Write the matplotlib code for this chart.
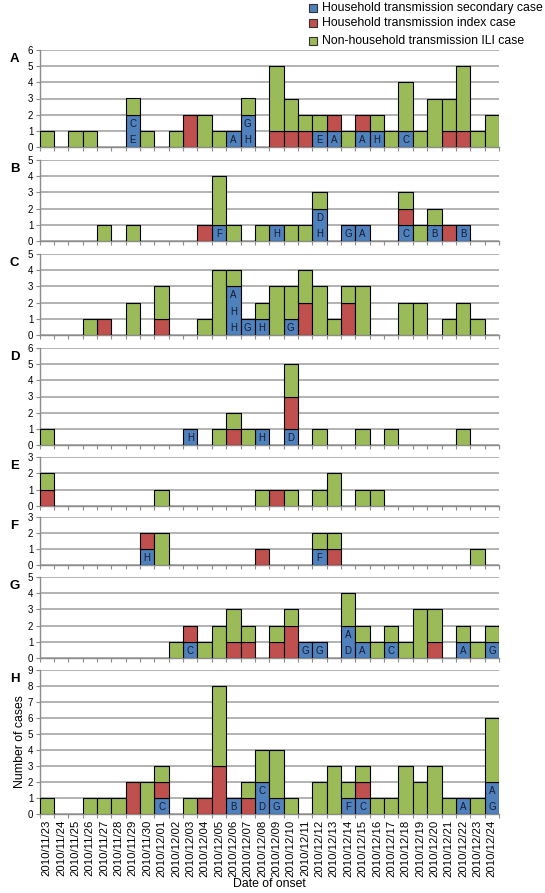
import matplotlib
matplotlib.use("Agg")
import matplotlib.pyplot as plt
from matplotlib.patches import Rectangle

plt.rcParams['font.family'] = ['Liberation Sans', 'DejaVu Sans']

dates = ["2010/11/%02d" % d for d in range(23, 31)] + ["2010/12/%02d" % d for d in range(1, 25)]

panel_names = ["A", "B", "C", "D", "E", "F", "G", "H"]
panel_ymax = [6, 5, 5, 6, 3, 3, 5, 9]

A_secondary = [0,0,0,0,0,0,2,0,0,0,0,0,0,1,2,0,0,0,0,1,1,0,1,1,0,1,0,0,0,0,0,0]
A_index     = [0,0,0,0,0,0,0,0,0,0,2,0,0,0,0,0,1,1,1,0,1,0,1,0,0,0,0,0,1,1,0,0]
A_nonhh     = [1,0,1,1,0,0,1,1,0,1,0,2,1,0,1,0,4,2,1,1,0,1,0,1,1,3,1,3,2,4,1,2]
A_letters   = ["","","","","","","EC","","","","","","","A","HG","","","","","E","A","","A","H","","C","","","","","",""]

B_secondary = [0,0,0,0,0,0,0,0,0,0,0,0,1,0,0,0,1,0,0,2,0,1,1,0,0,1,0,1,0,1,0,0]
B_index     = [0,0,0,0,0,0,0,0,0,0,0,1,0,0,0,0,0,0,0,0,0,0,0,0,0,1,0,0,1,0,0,0]
B_nonhh     = [0,0,0,0,1,0,1,0,0,0,0,0,3,1,0,1,0,1,1,1,0,0,0,0,0,1,1,1,0,0,0,0]
B_letters   = ["","","","","","","","","","","","","F","","","","H","","","HD","","G","A","","","C","","B","","B","",""]

C_secondary = [0,0,0,0,0,0,0,0,0,0,0,0,0,3,1,1,0,1,0,0,0,0,0,0,0,0,0,0,0,0,0,0]
C_index     = [0,0,0,0,1,0,0,0,1,0,0,0,0,0,0,0,0,0,2,0,0,2,0,0,0,0,0,0,0,0,0,0]
C_nonhh     = [0,0,0,1,0,0,2,0,2,0,0,1,4,1,0,1,3,2,2,3,1,1,3,0,0,2,2,0,1,2,1,0]
C_letters   = ["","","","","","","","","","","","","","HHA","G","H","","G","","","","","","","","","","","","","",""]

D_secondary = [0,0,0,0,0,0,0,0,0,0,1,0,0,0,0,1,0,1,0,0,0,0,0,0,0,0,0,0,0,0,0,0]
D_index     = [0,0,0,0,0,0,0,0,0,0,0,0,0,1,0,0,0,2,0,0,0,0,0,0,0,0,0,0,0,0,0,0]
D_nonhh     = [1,0,0,0,0,0,0,0,0,0,0,0,1,1,1,0,0,2,0,1,0,0,1,0,1,0,0,0,0,1,0,0]
D_letters   = ["","","","","","","","","","","H","","","","","H","","D","","","","","","","","","","","","","",""]

E_secondary = [0]*32
E_index     = [1,0,0,0,0,0,0,0,0,0,0,0,0,0,0,0,1,0,0,0,0,0,0,0,0,0,0,0,0,0,0,0]
E_nonhh     = [1,0,0,0,0,0,0,0,1,0,0,0,0,0,0,1,0,1,0,1,2,0,1,1,0,0,0,0,0,0,0,0]
E_letters   = [""]*32

F_secondary = [0,0,0,0,0,0,0,1,0,0,0,0,0,0,0,0,0,0,0,1,0,0,0,0,0,0,0,0,0,0,0,0]
F_index     = [0,0,0,0,0,0,0,1,0,0,0,0,0,0,0,1,0,0,0,0,1,0,0,0,0,0,0,0,0,0,0,0]
F_nonhh     = [0,0,0,0,0,0,0,0,2,0,0,0,0,0,0,0,0,0,0,1,1,0,0,0,0,0,0,0,0,0,1,0]
F_letters   = ["","","","","","","","H","","","","","","","","","","","","F","","","","","","","","","","","",""]

G_secondary = [0,0,0,0,0,0,0,0,0,0,1,0,0,0,0,0,0,0,1,1,0,2,1,0,1,0,0,0,0,1,0,1]
G_index     = [0,0,0,0,0,0,0,0,0,0,1,0,0,1,1,0,1,2,0,0,0,0,0,0,0,0,0,1,0,0,0,0]
G_nonhh     = [0,0,0,0,0,0,0,0,0,1,0,1,2,2,1,0,1,1,0,0,0,2,1,1,1,1,3,2,0,1,1,1]
G_letters   = ["","","","","","","","","","","C","","","","","","","","G","G","","DA","A","","C","","","","","A","","G"]

H_secondary = [0,0,0,0,0,0,0,0,1,0,0,0,0,1,0,2,1,0,0,0,0,1,1,0,0,0,0,0,0,1,0,2]
H_index     = [0,0,0,0,0,0,2,0,1,0,0,1,3,0,1,0,0,0,0,0,0,0,1,0,0,0,0,0,0,0,0,0]
H_nonhh     = [1,0,0,1,1,1,0,2,1,0,1,0,5,0,1,2,3,1,0,2,3,1,1,1,1,3,2,3,1,0,1,4]
H_letters   = ["","","","","","","","","C","","","","","B","","DC","G","","","","","F","C","","","","","","","A","","GA"]

secondary = [A_secondary, B_secondary, C_secondary, D_secondary, E_secondary, F_secondary, G_secondary, H_secondary]
index_cases = [A_index, B_index, C_index, D_index, E_index, F_index, G_index, H_index]
nonhh = [A_nonhh, B_nonhh, C_nonhh, D_nonhh, E_nonhh, F_nonhh, G_nonhh, H_nonhh]
letters = [A_letters, B_letters, C_letters, D_letters, E_letters, F_letters, G_letters, H_letters]

legend_labels = ["Household transmission secondary case",
                 "Household transmission index case",
                 "Non-household transmission ILI case"]

BLUE = "#4F81BD"
RED = "#C0504D"
GREEN = "#9BBB59"
GRID = "#A6A6A6"
colors = [BLUE, RED, GREEN]

W, H = 545, 893
fig = plt.figure(figsize=(W / 100, H / 100), dpi=100)

# panel pixel extents (top, bottom)
extents = [(50, 147), (160, 241), (254, 335), (348, 445), (457, 506), (517, 565), (577, 658), (670, 814)]
left_px, right_px = 39.5, 499

n = len(dates)
xs = list(range(n))

for p in range(8):
    top, bot = extents[p]
    ax = fig.add_axes([left_px / W, 1 - bot / H, (right_px - left_px) / W, (bot - top) / H])
    ymax = panel_ymax[p]
    series = [secondary[p], index_cases[p], nonhh[p]]
    base = [0] * n
    for s, col in zip(series, colors):
        idx = [i for i in xs if s[i] > 0]
        ax.bar([xs[i] for i in idx], [s[i] for i in idx], bottom=[base[i] for i in idx],
               width=1.0, color=col, edgecolor="black", linewidth=0.8, zorder=3)
        if s is series[0]:
            for i in idx:
                labs = letters[p][i]
                for j in range(s[i]):
                    if j < len(labs):
                        ax.text(xs[i], base[i] + j + 0.45, labs[j], ha="center", va="center",
                                fontsize=7, color="#1a1a2e", zorder=4)
        base = [base[i] + s[i] for i in xs]

    ax.set_xlim(-0.5, n - 0.5)
    ax.set_ylim(0, ymax)
    ax.set_yticks(range(0, ymax + 1))
    ax.yaxis.grid(True, color=GRID, linewidth=1.2, zorder=0)
    ax.set_axisbelow(True)
    for sp in ["top", "right"]:
        ax.spines[sp].set_visible(False)
    for sp in ["left", "bottom"]:
        ax.spines[sp].set_color("#8c8c8c")
        ax.spines[sp].set_linewidth(1.0)
    ax.tick_params(axis="y", labelsize=7, length=3, width=0.8, color="#8c8c8c", pad=1.5)
    ax.set_xticks([x - 0.5 for x in range(n + 1)], minor=True)
    ax.tick_params(axis="x", which="minor", length=3, width=0.8, color="#8c8c8c")
    ax.set_xticks(xs)
    if p == 7:
        ax.set_xticklabels(dates, rotation=90, fontsize=8.2)
        ax.tick_params(axis="x", which="major", length=0, pad=4)
        ax.set_xlabel("Date of onset", fontsize=8.8, labelpad=1)
        ax.set_ylabel("Number of cases", fontsize=8.8, labelpad=1)
    else:
        ax.set_xticklabels([])
        ax.tick_params(axis="x", which="major", length=0)
    fig.text(10 / W, 1 - (top + 9) / H, panel_names[p], fontsize=9.5, fontweight="bold",
             ha="left", va="center")

# legend (top right)
leg_rows = [8, 23, 41]
for lab, col, yc in zip(legend_labels, colors, leg_rows):
    sz = 8
    fig.add_artist(Rectangle(((313 - sz / 2) / W, 1 - (yc + sz / 2) / H), sz / W, sz / H,
                             transform=fig.transFigure, facecolor=col, edgecolor="#333333",
                             linewidth=0.8))
    fig.text(322 / W, 1 - yc / H, lab, fontsize=8.8, ha="left", va="center")

fig.savefig("out.png", dpi=100)
